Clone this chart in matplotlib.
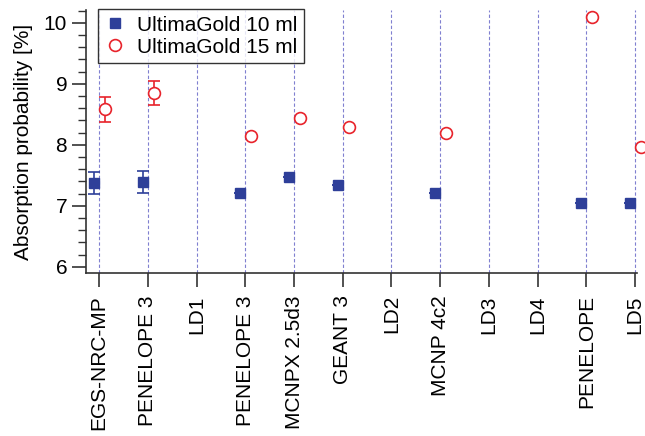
import matplotlib
matplotlib.use("Agg")
import matplotlib.pyplot as plt
from matplotlib.ticker import MultipleLocator
from matplotlib.lines import Line2D

plt.rcParams['font.family'] = ['Liberation Sans', 'DejaVu Sans']

# category labels along the x axis
codes = ['EGS-NRC-MP', 'PENELOPE 3', 'LD1', 'PENELOPE 3', 'MCNPX 2.5d3',
         'GEANT 3', 'LD2', 'MCNP 4c2', 'LD3', 'LD4', 'PENELOPE', 'LD5']

# UltimaGold 10 ml (index of category, value, error)
x10 = [0, 1, 3, 4, 5, 7, 10, 11]
y10 = [7.37, 7.39, 7.21, 7.47, 7.34, 7.21, 7.05, 7.04]
e10 = [0.18, 0.18, 0, 0, 0, 0, 0, 0]

# UltimaGold 15 ml
x15 = [0, 1, 3, 4, 5, 7, 10, 11]
y15 = [8.58, 8.85, 8.15, 8.44, 8.30, 8.19, 10.09, 7.96]
e15 = [0.20, 0.19, 0, 0, 0, 0, 0, 0]

blue = '#2e3f99'
red = '#e8232b'

fig = plt.figure(figsize=(6.45, 4.36), dpi=100)
ax = fig.add_axes([0.1333, 0.374, 0.8543, 0.603])

# dashed vertical guides at each category
for i in range(len(codes)):
    ax.axvline(i, color='#6a6ac8', lw=0.8, ls=(0, (3, 2)), alpha=0.85, zorder=0)

pts = ax.errorbar([x - 0.1 for x in x10], y10, yerr=e10, fmt='s', ms=7.5,
                  color=blue, mec=blue, capsize=4, elinewidth=1.2, capthick=1.2,
                  zorder=3)
pts2 = ax.errorbar([x + 0.12 for x in x15], y15, yerr=e15, fmt='o', ms=8.5,
                   mfc='white', mec=red, mew=1.2, color=red, capsize=4,
                   elinewidth=1.2, capthick=1.2, zorder=3)
for art in [pts, pts2]:
    for a in art.get_children():
        a.set_clip_on(False)

ax.set_xlim(-0.27, 11.04)
ax.set_ylim(5.9, 10.21)
ax.set_xticks(range(len(codes)))
ax.set_xticklabels(codes, rotation=90, fontsize=15)
ax.yaxis.set_major_locator(MultipleLocator(1))
ax.yaxis.set_minor_locator(MultipleLocator(0.2))
ax.tick_params(axis='y', labelsize=15, length=10, width=1.2, color='#333333')
ax.tick_params(axis='y', which='minor', length=6, width=1.0, color='#333333')
ax.tick_params(axis='x', length=10, width=1.2, color='#333333', pad=6)
ax.set_ylabel('Absorption probability [%]', fontsize=15, labelpad=8)

for s in ['top', 'right']:
    ax.spines[s].set_visible(False)
for s in ['left', 'bottom']:
    ax.spines[s].set_linewidth(1.2)
    ax.spines[s].set_color('#333333')

handles = [Line2D([], [], ls='none', marker='s', ms=7.5, color=blue),
           Line2D([], [], ls='none', marker='o', ms=8.5, mfc='white',
                  mec=red, mew=1.2)]
leg = ax.legend(handles, ['UltimaGold 10 ml', 'UltimaGold 15 ml'],
                loc='upper left', bbox_to_anchor=(0.0, 1.05), fontsize=15,
                frameon=True, fancybox=False, edgecolor='black',
                handletextpad=0.55, borderpad=0.3, labelspacing=0.15,
                handlelength=1.0, borderaxespad=0.6)
leg.get_frame().set_linewidth(1.0)

fig.savefig('out.png', dpi=100)
